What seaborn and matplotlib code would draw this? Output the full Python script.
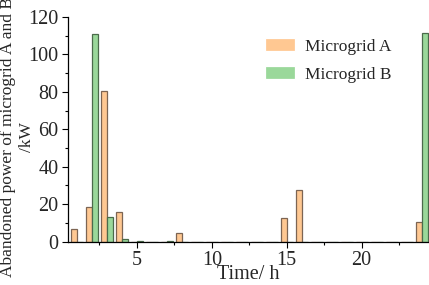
import pandas as pd
import matplotlib.pyplot as plt
import seaborn as sns
from matplotlib.ticker import MultipleLocator

# Hourly abandoned power (kW)
hours = list(range(1, 25))
microgrid_a = [6.5, 18.3, 80.5, 15.8, 0, 0, 0, 4.5, 0, 0, 0, 0,
               0, 0, 12.5, 27.5, 0, 0, 0, 0, 0, 0, 0, 10.7]
microgrid_b = [0, 110.6, 13.0, 1.2, 0.5, 0, 0.3, 0, 0, 0, 0, 0,
               0, 0, 0, 0, 0, 0, 0, 0, 0, 0, 0, 111.1]
series_names = ["Microgrid A", "Microgrid B"]

fill_colors = ["#FFC892", "#9AD89A"]
edge_colors = ["#7D6553", "#4B6B4B"]

df = pd.DataFrame({
    "hour": hours * 2,
    "power": microgrid_a + microgrid_b,
    "grid": [series_names[0]] * len(hours) + [series_names[1]] * len(hours),
})

sns.set_style("ticks")
plt.rcParams["font.family"] = ["Liberation Serif", "DejaVu Serif"]

fig = plt.figure(figsize=(4.29, 2.85), dpi=100)
ax = fig.add_axes([0.1585, 0.152, 0.8415, 0.789])

sns.barplot(
    data=df, x="hour", y="power", hue="grid",
    native_scale=True, dodge=True, width=0.8, saturation=1,
    palette=fill_colors, linewidth=0.9, ax=ax,
)

# darker outline per series
for container, ec in zip(ax.containers, edge_colors):
    for bar in container:
        bar.set_edgecolor(ec)

ax.set_xlim(0.4, 24.5)
ax.set_ylim(0, 120)
ax.xaxis.set_major_locator(MultipleLocator(5))
ax.xaxis.set_minor_locator(MultipleLocator(2.5))
ax.yaxis.set_major_locator(MultipleLocator(20))
ax.yaxis.set_minor_locator(MultipleLocator(10))
ax.tick_params(which="major", direction="out", length=4.5, width=0.8,
               labelsize=14.5, color="black", pad=2.5)
ax.tick_params(which="minor", direction="out", length=2.5, width=0.8,
               color="black")
for side in ["left", "bottom"]:
    ax.spines[side].set_color("black")
    ax.spines[side].set_linewidth(0.9)
sns.despine(ax=ax)

ax.set_xlabel("Time/ h", fontsize=14.5)
ax.set_ylabel("Abandoned power of microgrid A and B\n/kW", fontsize=12.5,
              linespacing=1.2)
ax.xaxis.set_label_coords(0.5, -0.105)
ax.yaxis.set_label_coords(-0.092, 0.465)

handles, labels = ax.get_legend_handles_labels()
ax.legend(
    handles, labels, frameon=False, fontsize=12.5,
    loc="upper left", bbox_to_anchor=(265 / 429, 1 - 38 / 285),
    bbox_transform=fig.transFigure, borderpad=0, borderaxespad=0,
    handlelength=1.75, handleheight=0.8, handletextpad=0.55, labelspacing=0.65,
)

fig.savefig("out.png", dpi=100)
